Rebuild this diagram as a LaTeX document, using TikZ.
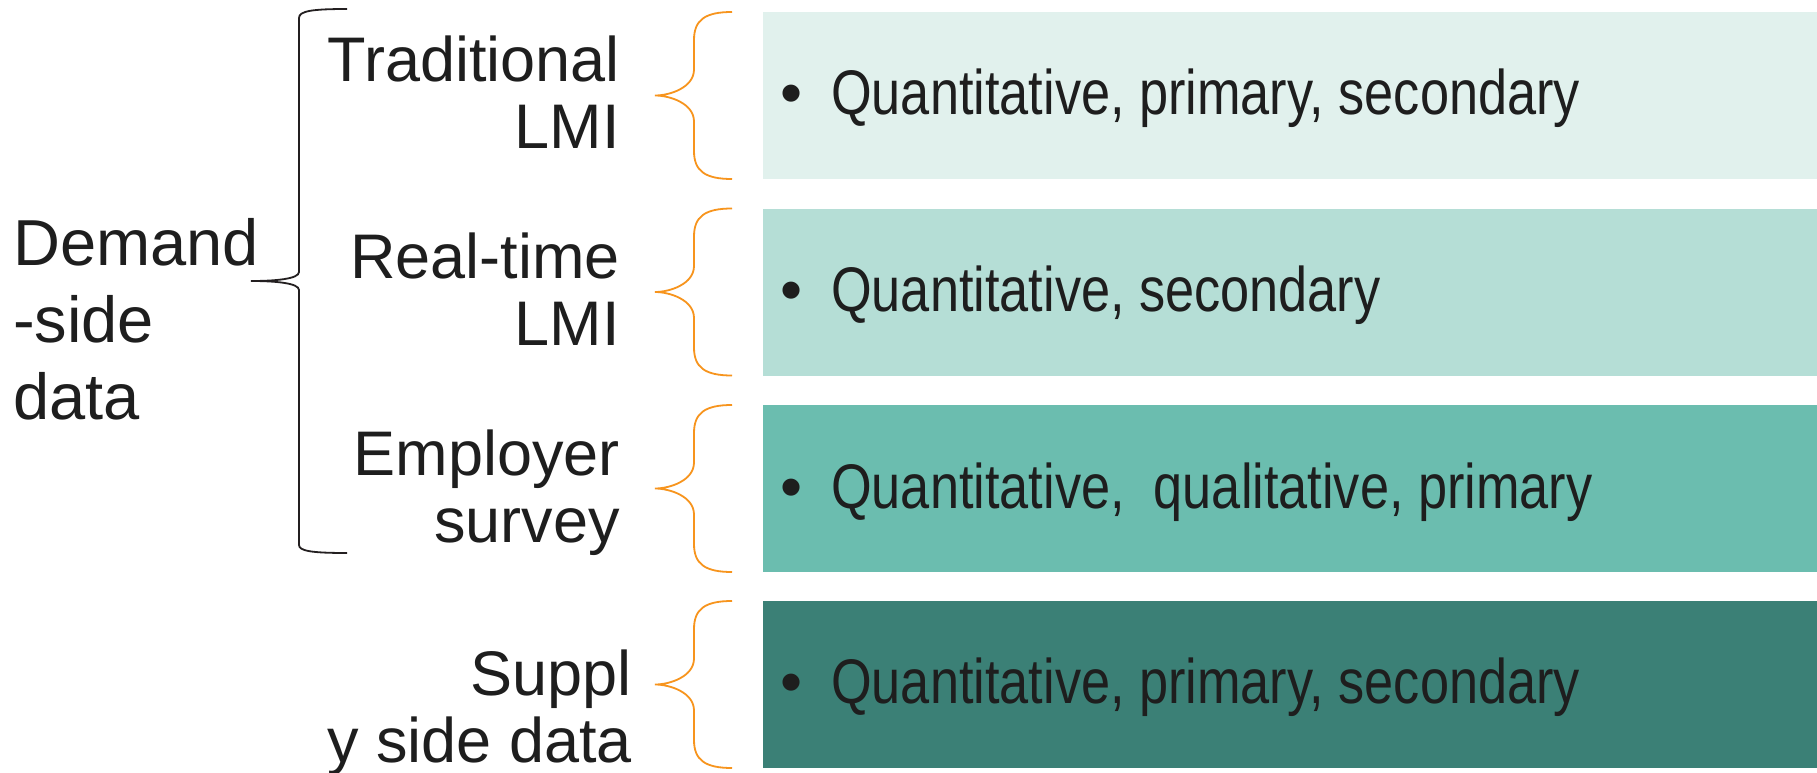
\documentclass[tikz,border=0pt]{standalone}
\usepackage{fontspec}
\setmainfont{Liberation Sans}
\definecolor{txt}{RGB}{30,30,30}
\definecolor{boxA}{RGB}{225,241,237}
\definecolor{boxB}{RGB}{181,222,214}
\definecolor{boxC}{RGB}{107,189,175}
\definecolor{boxD}{RGB}{59,128,118}
\definecolor{orng}{RGB}{247,148,29}
\definecolor{brk}{RGB}{35,31,32}
\newcommand{\obrace}[2]{% #1 top y, #2 bottom y
  \draw[obr] (732,#1) .. controls (705,#1) and (694,#1+8) .. (694,#1+28)
    -- (694,{(#1+#2)/2-26}) .. controls (694,{(#1+#2)/2-8}) and (670,{(#1+#2)/2}) .. (655,{(#1+#2)/2})
    .. controls (670,{(#1+#2)/2}) and (694,{(#1+#2)/2+8}) .. (694,{(#1+#2)/2+26})
    -- (694,#2-28) .. controls (694,#2-8) and (705,#2) .. (732,#2);}
\begin{document}
\begin{tikzpicture}[x=1pt,y=-1pt,
  lab/.style={inner sep=0pt, text=txt, font=\fontsize{63}{67}\selectfont},
  dlab/.style={inner sep=0pt, text=txt, font=\fontsize{65}{77}\selectfont, anchor=base west},
  rlab/.style={lab, anchor=base east},
  blt/.style={lab, anchor=base},
  btxt/.style={lab, anchor=base west},
  box/.style={draw=none, inner sep=0pt, minimum width=1054pt, minimum height=167pt},
  obr/.style={draw=orng, line width=1.8pt},
  kbr/.style={draw=brk, line width=1.8pt}]
\useasboundingbox (0,0) rectangle (1817,773);
\fill[white] (0,0) rectangle (1817,773);
% boxes
\node[box, fill=boxA] (b1) at (1290,95.5) {};
\node[box, fill=boxB] (b2) at (1290,292) {};
\node[box, fill=boxC] (b3) at (1290,488.5) {};
\node[box, fill=boxD] (b4) at (1290,684.5) {};
% bullet texts
\node[blt] (d1) at (792,115) {•};
\node[btxt] (t1) at (831,115) {\scalebox{0.83}[1]{Quantitative, primary, secondary}};
\node[blt] (d2) at (792,311.5) {•};
\node[btxt] (t2) at (831,311.5) {\scalebox{0.83}[1]{Quantitative, secondary}};
\node[blt] (d3) at (792,508) {•};
\node[btxt] (t3) at (831,508) {\scalebox{0.83}[1]{Quantitative,\ \ qualitative, primary}};
\node[blt] (d4) at (792,703.5) {•};
\node[btxt] (t4) at (831,703.5) {\scalebox{0.83}[1]{Quantitative, primary, secondary}};
% orange braces
\obrace{12}{179}
\obrace{208.5}{375.5}
\obrace{405}{572}
\obrace{601}{768}
% middle labels
\node[rlab] (l1a) at (620,82) {Traditional};
\node[rlab] (l1b) at (620,148) {LMI};
\node[rlab] (l2a) at (620,278) {Real-time};
\node[rlab] (l2b) at (620,345) {LMI};
\node[rlab] (l3a) at (620,475) {Employer};
\node[rlab] (l3b) at (620,542) {survey};
\node[rlab] (l4a) at (632,695) {Suppl};
\node[rlab] (l4b) at (632,762) {y side data};
% left label
\node[dlab] (dm1) at (13,265) {Demand};
\node[dlab] (dm2) at (13,342) {-side};
\node[dlab] (dm3) at (13,419) {data};
% black brace
\draw[kbr] (347,9) .. controls (312,9) and (299,11) .. (299,18) -- (299,272)
  .. controls (299,279) and (275,281) .. (251,281)
  .. controls (275,281) and (299,283) .. (299,290) -- (299,545)
  .. controls (299,551) and (312,553) .. (347,553);
\end{tikzpicture}
\end{document}
